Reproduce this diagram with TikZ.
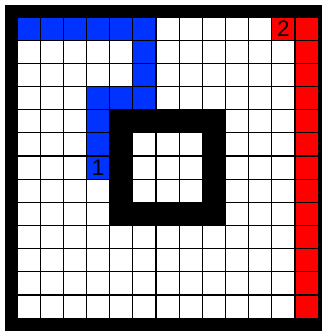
\documentclass[tikz,border=0pt]{standalone}
\usepackage{fontspec}
\setmainfont{Liberation Sans}
\definecolor{pathblue}{RGB}{0,51,255}
\definecolor{pathred}{RGB}{255,0,0}

\begin{document}
\begin{tikzpicture}[x=0.5cm,y=0.5cm]
\useasboundingbox (-0.734,-0.553) rectangle (13.337,13.734);
\coordinate (O) at (0,0); \coordinate (T) at (13,13);
\fill[black] (-0.518,-0.553) rectangle (13.164,13.518);
\fill[white] (O) rectangle (T);
\fill[pathblue] (0,12) rectangle (6,13); \fill[pathblue] (5,10) rectangle (6,12); \fill[pathblue] (3,9) rectangle (6,10); \fill[pathblue] (3,6) rectangle (4,9);
\fill[pathred] (11,12) rectangle (12,13); \fill[pathred] (12,0) rectangle (13,13);
\draw[line width=0.7pt,step=1] (O) grid (T);
\fill[black] (4,4) rectangle (9,9);
\fill[white] (5,5) rectangle (8,8);
\draw[line width=0.7pt,step=1] (5,5) grid (8,8);
\node[font=\fontsize{13.8}{16}\selectfont] (start) at (3.5,6.5) {1};
\node[font=\fontsize{13.8}{16}\selectfont] (goal) at (11.5,12.5) {2};
\end{tikzpicture}
\end{document}
